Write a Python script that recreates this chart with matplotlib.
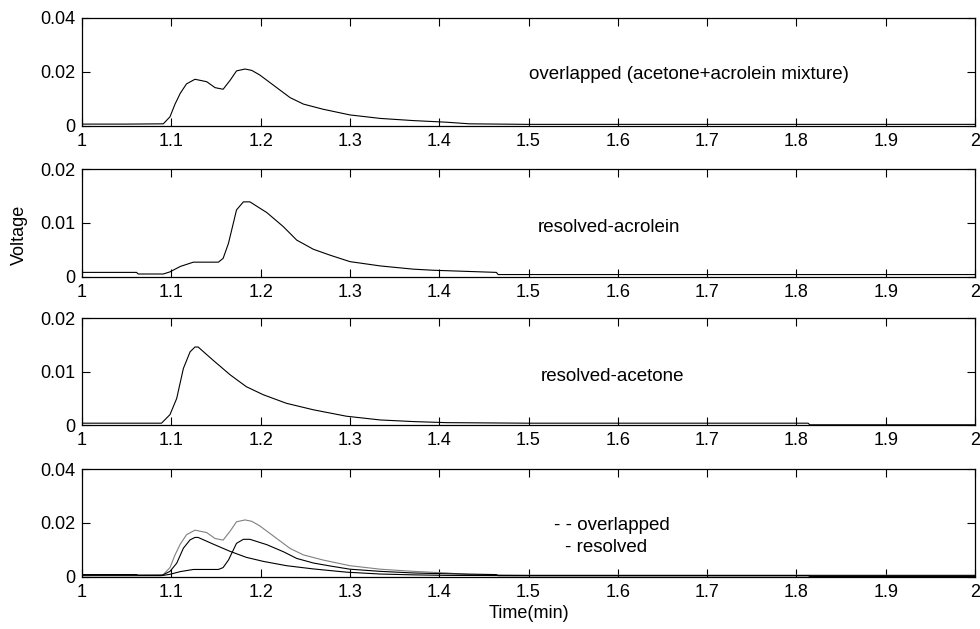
import matplotlib.pyplot as plt
from matplotlib.ticker import FormatStrFormatter

plt.rcParams['font.family'] = ['Liberation Sans', 'DejaVu Sans']
plt.rcParams['font.size'] = 13.5

# overlapped signal (acetone + acrolein mixture)
t_mix = [1.0, 1.05, 1.091, 1.0985, 1.104, 1.11, 1.117, 1.1265, 1.1396, 1.149, 1.158, 1.166,
         1.173, 1.1825, 1.19, 1.199, 1.214, 1.233, 1.248, 1.270, 1.300, 1.334, 1.371, 1.408,
         1.434, 1.5, 1.6, 1.7, 1.8, 1.9, 2.0]
v_mix = [0.0007, 0.0007, 0.0008, 0.0034, 0.0080, 0.0121, 0.0156, 0.0173, 0.0164, 0.0142, 0.0136,
         0.0170, 0.0204, 0.0211, 0.0206, 0.0189, 0.0152, 0.0105, 0.0081, 0.0062, 0.0041, 0.0028,
         0.0020, 0.0014, 0.0008, 0.0006, 0.0006, 0.0006, 0.0006, 0.0006, 0.0006]

# resolved acrolein
t_acr = [1.0, 1.061, 1.063, 1.091, 1.0985, 1.11, 1.1247, 1.1527, 1.158, 1.164, 1.173, 1.1807,
         1.188, 1.207, 1.2254, 1.2404, 1.259, 1.2777, 1.300, 1.334, 1.371, 1.393, 1.464, 1.466,
         1.6, 1.8, 2.0]
v_acr = [0.0008, 0.0008, 0.0005, 0.0005, 0.0009, 0.0019, 0.0027, 0.0027, 0.0034, 0.0062, 0.0124,
         0.0139, 0.0139, 0.0119, 0.0093, 0.0068, 0.0051, 0.0040, 0.0028, 0.0020, 0.0014, 0.0012,
         0.0008, 0.0004, 0.0004, 0.0004, 0.0004]

# resolved acetone
t_ace = [1.0, 1.05, 1.089, 1.0985, 1.106, 1.1135, 1.121, 1.1265, 1.130, 1.147, 1.166, 1.184,
         1.203, 1.229, 1.259, 1.296, 1.334, 1.371, 1.408, 1.5, 1.6, 1.7, 1.813, 1.815, 1.9, 2.0]
v_ace = [0.0004, 0.0004, 0.0004, 0.0020, 0.0050, 0.0106, 0.0137, 0.0146, 0.0146, 0.0121, 0.0094,
         0.0072, 0.0057, 0.0041, 0.0029, 0.0017, 0.0010, 0.0007, 0.0005, 0.0004, 0.0004, 0.0004,
         0.0004, 0.0001, 0.0001, 0.0001]

x_ticks = [1, 1.1, 1.2, 1.3, 1.4, 1.5, 1.6, 1.7, 1.8, 1.9, 2]

fig = plt.figure(figsize=(9.8, 6.29), dpi=100)
left, width = 0.0837, 0.9112
boxes = [(0.7997, 0.1717), (0.5601, 0.1712), (0.3238, 0.1706), (0.0831, 0.1712)]
ylims = [0.04, 0.02, 0.02, 0.04]
axes = []
for (b, h), ymax in zip(boxes, ylims):
    ax = fig.add_axes([left, b, width, h])
    ax.set_xlim(1, 2)
    ax.set_ylim(0, ymax)
    ax.set_xticks(x_ticks)
    ax.set_yticks([0, ymax / 2, ymax])
    ax.xaxis.set_major_formatter(FormatStrFormatter('%g'))
    ax.yaxis.set_major_formatter(FormatStrFormatter('%g'))
    ax.tick_params(direction='in', top=True, right=True, length=6, width=0.8,
                   labelsize=13, pad=5)
    for s in ax.spines.values():
        s.set_linewidth(0.9)
    axes.append(ax)

axes[0].plot(t_mix, v_mix, color='black', lw=0.8)
axes[0].text(1.5, 0.0189, 'overlapped (acetone+acrolein mixture)', ha='left', va='center')

axes[1].plot(t_acr, v_acr, color='black', lw=0.8)
axes[1].text(1.51, 0.0092, 'resolved-acrolein', ha='left', va='center')

axes[2].plot(t_ace, v_ace, color='black', lw=0.8)
axes[2].text(1.514, 0.0091, 'resolved-acetone', ha='left', va='center')

axes[3].plot(t_mix, v_mix, color='#808080', lw=0.8)
axes[3].plot(t_acr, v_acr, color='black', lw=0.8)
axes[3].plot(t_ace, v_ace, color='black', lw=0.8)
axes[3].text(1.529, 0.0192, '- - overlapped', ha='left', va='center')
axes[3].text(1.541, 0.0107, '- resolved', ha='left', va='center')
axes[3].set_xlabel('Time(min)', fontsize=13, labelpad=3)

fig.text(0.02, 0.627, 'Voltage', rotation=90, ha='center', va='center', fontsize=13)

fig.savefig('out.png', dpi=100)
